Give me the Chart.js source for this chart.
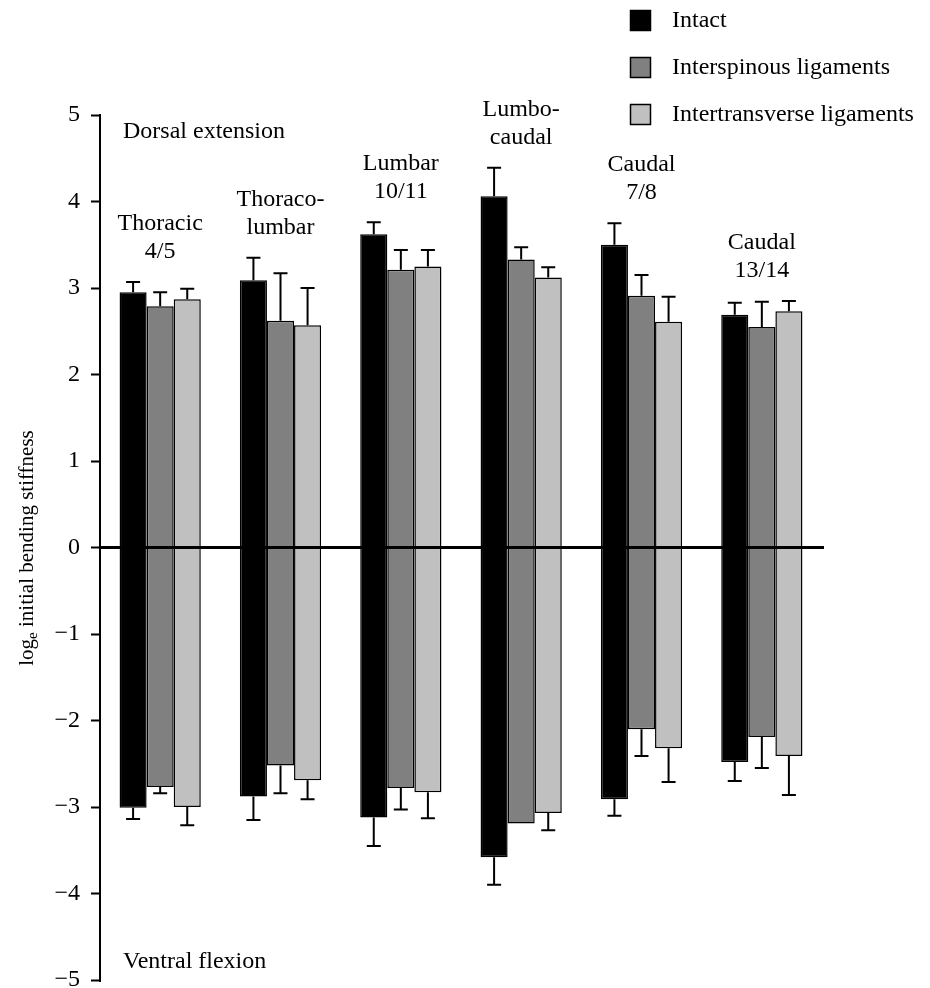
<!DOCTYPE html>
<html lang="en">
<head>
  <meta charset="UTF-8">
  <title>Bending stiffness</title>
  <script src="https://cdn.jsdelivr.net/npm/chart.js"></script>
  <style>
    body {
      margin: 0;
      background: #fff;
    }

    #caixa {
      width: 930px;
      height: 988px;
    }
  </style>
</head>

<body>
  <div id="caixa">
    <canvas id="grafico"></canvas>
  </div>

  <script>
    // joints along the spine
    const categorias = [['Thoracic', '4/5'], ['Thoraco-', 'lumbar'], ['Lumbar', '10/11'], ['Lumbo-', 'caudal'], ['Caudal', '7/8'], ['Caudal', '13/14']];
    const series = ['Intact', 'Interspinous ligaments', 'Intertransverse ligaments'];
    const yTicks = [-5, -4, -3, -2, -1, 0, 1, 2, 3, 4, 5];

    // dorsal extension (positive) and ventral flexion (negative)
    const intactTop = [2.95, 3.09, 3.62, 4.06, 3.50, 2.69];
    const intactBottom = [-3.01, -2.88, -3.12, -3.58, -2.91, -2.48];
    const intactErrTop = [3.07, 3.35, 3.76, 4.39, 3.75, 2.83];
    const intactErrBottom = [-3.14, -3.15, -3.45, -3.90, -3.10, -2.70];

    const spinTop = [2.79, 2.62, 3.21, 3.33, 2.91, 2.55];
    const spinBottom = [-2.77, -2.52, -2.78, -3.19, -2.10, -2.19];
    const spinErrTop = [2.95, 3.17, 3.44, 3.47, 3.15, 2.84];
    const spinErrBottom = [-2.84, -2.84, -3.03, null, -2.41, -2.55];

    const transTop = [2.87, 2.57, 3.25, 3.12, 2.61, 2.73];
    const transBottom = [-3.00, -2.69, -2.83, -3.07, -2.32, -2.41];
    const transErrTop = [2.99, 3.00, 3.44, 3.24, 2.90, 2.85];
    const transErrBottom = [-3.21, -2.91, -3.13, -3.27, -2.71, -2.86];

    const cores = ['#000000', '#808080', '#c0c0c0'];
    const fonte = '"Liberation Serif", "Times New Roman", serif';

    function pares(baixo, cima) {
      return baixo.map((b, i) => [b, cima[i]]);
    }

    const erros = [
      [intactErrTop, intactErrBottom],
      [spinErrTop, spinErrBottom],
      [transErrTop, transErrBottom]
    ];

    // error bars + text labels
    const extras = {
      id: 'extras',
      afterDatasetsDraw(chart) {
        const c = chart.ctx;
        const y = chart.scales.y;
        const x = chart.scales.x;
        const area = chart.chartArea;

        c.save();

        // zero line over the bars
        const y0 = y.getPixelForValue(0);
        c.strokeStyle = '#000';
        c.lineWidth = 3;
        c.beginPath();
        c.moveTo(area.left, y0);
        c.lineTo(area.right + 2, y0);
        c.stroke();

        c.lineWidth = 2;
        chart.data.datasets.forEach((ds, d) => {
          const meta = chart.getDatasetMeta(d);
          meta.data.forEach((bar, i) => {
            const cx = bar.x;
            const [ups, downs] = erros[d];
            [[ups[i], ds.data[i][1]], [downs[i], ds.data[i][0]]].forEach(([e, v]) => {
              if (e === null) return;
              const p0 = y.getPixelForValue(v);
              const p1 = y.getPixelForValue(e);
              c.beginPath();
              c.moveTo(cx, p0);
              c.lineTo(cx, p1);
              c.moveTo(cx - 7, p1);
              c.lineTo(cx + 7, p1);
              c.stroke();
            });
          });
        });

        // group names above the bars
        c.fillStyle = '#000';
        c.font = '24px ' + fonte;
        c.textAlign = 'center';
        c.textBaseline = 'alphabetic';
        categorias.forEach((linhas, i) => {
          const cx = x.getPixelForValue(i);
          const topo = Math.min(...erros.map(e => y.getPixelForValue(e[0][i])));
          let base = topo - 24 - (linhas.length - 1) * 28;
          linhas.forEach(l => {
            c.fillText(l, cx, base);
            base += 28;
          });
        });

        c.textAlign = 'left';
        c.fillText('Dorsal extension', area.left + 23, y.getPixelForValue(5) + 23);
        c.fillText('Ventral flexion', area.left + 23, y.getPixelForValue(-5) - 12);

        // legend
        c.textBaseline = 'middle';
        chart.data.datasets.forEach((ds, d) => {
          const ly = 20 + d * 47;
          c.fillStyle = ds.backgroundColor;
          c.fillRect(630, ly - 10, 21, 21);
          c.strokeStyle = '#000';
          c.lineWidth = 1.5;
          c.strokeRect(630.5, ly - 9.5, 20, 20);
          c.fillStyle = '#000';
          c.fillText(ds.label, 672, ly + 1);
        });

        // y title with subscript e
        c.translate(33, 548);
        c.rotate(-Math.PI / 2);
        c.textBaseline = 'alphabetic';
        const f1 = '21px ' + fonte;
        const f2 = '15px ' + fonte;
        c.font = f1;
        const w1 = c.measureText('log').width;
        const w3 = c.measureText(' initial bending stiffness').width;
        c.font = f2;
        const w2 = c.measureText('e').width;
        let px = -(w1 + w2 + w3) / 2;
        c.font = f1;
        c.fillText('log', px, 0);
        px += w1;
        c.font = f2;
        c.fillText('e', px, 4);
        px += w2;
        c.font = f1;
        c.fillText(' initial bending stiffness', px, 0);
        c.restore();
      }
    };

    const ctx = document.getElementById('grafico').getContext('2d');
    const grafico = new Chart(ctx, {
      type: 'bar',
      data: {
        labels: categorias.map(l => l.join(' ')),
        datasets: [
          { label: series[0], data: pares(intactBottom, intactTop), backgroundColor: cores[0] },
          { label: series[1], data: pares(spinBottom, spinTop), backgroundColor: cores[1] },
          { label: series[2], data: pares(transBottom, transTop), backgroundColor: cores[2] }
        ]
      },
      options: {
        responsive: true,
        maintainAspectRatio: false,
        animation: false,
        layout: {
          padding: { left: 0, right: 108, top: 115, bottom: 8 }
        },
        datasets: {
          bar: {
            categoryPercentage: 0.675,
            barPercentage: 1,
            borderColor: '#000',
            borderWidth: 1.5,
            borderSkipped: false
          }
        },
        scales: {
          x: {
            display: false
          },
          y: {
            min: -5,
            max: 5,
            afterBuildTicks(scale) {
              scale.ticks = yTicks.map(v => ({ value: v }));
            },
            afterFit(scale) {
              scale.width = 100;
              scale.paddingTop = 0;
              scale.paddingBottom = 0;
            },
            border: { color: '#000', width: 2 },
            grid: {
              color: c => c.tick && c.tick.value === 0 ? '#000' : 'rgba(0,0,0,0)',
              lineWidth: 3,
              tickColor: '#000',
              tickWidth: 2,
              tickLength: 9
            },
            ticks: {
              color: '#000',
              padding: 11,
              font: { family: fonte, size: 24 },
              callback: v => v < 0 ? '\u2212' + Math.abs(v) : String(v)
            }
          }
        },
        plugins: {
          legend: { display: false },
          tooltip: { enabled: false }
        }
      },
      plugins: [extras]
    });
  </script>
</body>

</html>
